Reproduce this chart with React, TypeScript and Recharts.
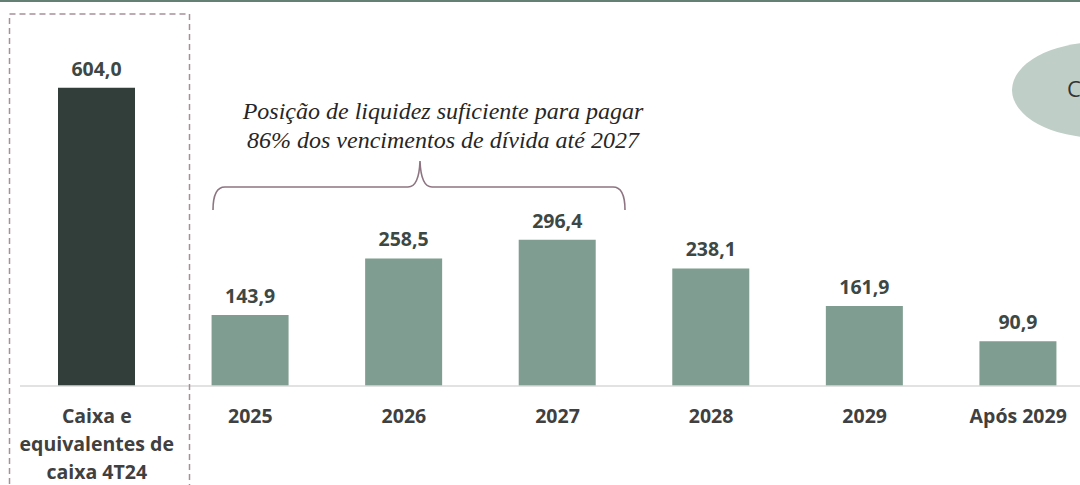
import React from "react";
import { BarChart, Bar, XAxis, YAxis, Cell, LabelList } from "recharts";

const categories = ["Caixa e|equivalentes de|caixa 4T24", "2025", "2026", "2027", "2028", "2029", "Após 2029"];
const values = [604.0, 143.9, 258.5, 296.4, 238.1, 161.9, 90.9];
const barColors = ["#323e39", "#7f9d90", "#7f9d90", "#7f9d90", "#7f9d90", "#7f9d90", "#7f9d90"];
const bracketText = ["Posição de liquidez suficiente para pagar", "86% dos vencimentos de dívida até 2027"];

const data = categories.map((c, i) => ({ name: c, value: values[i] }));

const fmt = (v: number) => v.toFixed(1).replace(".", ",");

const FONT = "'Open Sans', 'Noto Sans', sans-serif";

function ValueLabel(props: any) {
    const { x, y, width, value } = props;
    return (
        <text x={x + width / 2} y={y - 12} textAnchor="middle" fontFamily={FONT} fontWeight={700} fontSize={19.5} fill="#3d4844">
            {fmt(value)}
        </text>
    );
}

function CategoryTick(props: any) {
    const { x, y, payload } = props;
    const lines = String(payload.value).split("|");
    return (
        <text x={x} y={y} textAnchor="middle" fontFamily={FONT} fontWeight={700} fontSize={19.5} fill="#404040">
            {lines.map((l, i) => (
                <tspan key={i} x={x} dy={i === 0 ? 29 : 28}>{l}</tspan>
            ))}
        </text>
    );
}

export default function App() {
    return (
        <div style={{ position: "fixed", left: 0, top: 0, width: 1080, height: 485, overflow: "hidden", background: "#fff" }}>
            <BarChart width={1095} height={485} data={data} margin={{ top: 1, right: 0, bottom: 0, left: 20 }}>
                <YAxis hide domain={[0, 780]} />
                <XAxis
                    dataKey="name"
                    axisLine={{ stroke: "#d9d9d9", strokeWidth: 1.5 }}
                    tickLine={false}
                    interval={0}
                    tick={<CategoryTick />}
                    height={99}
                />
                <Bar dataKey="value" barSize={77} isAnimationActive={false}>
                    {data.map((_, i) => (
                        <Cell key={i} fill={barColors[i]} />
                    ))}
                    <LabelList dataKey="value" content={<ValueLabel />} />
                </Bar>
            </BarChart>
            <svg width={1080} height={485} style={{ position: "absolute", left: 0, top: 0, pointerEvents: "none" }}>
                <rect x={0} y={0} width={1080} height={2} fill="#647f73" />
                <rect x={9.5} y={14} width={180} height={500} fill="none" stroke="#a98e99" strokeWidth={1.5} strokeDasharray="6 4" />
                <ellipse cx={1100} cy={90} rx={88} ry={48} fill="#bfcec7" />
                <text x={1067} y={97} fontFamily={FONT} fontSize={22} fill="#333">C</text>
                <path
                    d="M213,210 Q213,187 225,187 L408,187 Q419,187 420,161 Q421,187 432,187 L613,187 Q625,187 625,210"
                    fill="none"
                    stroke="#8d7480"
                    strokeWidth={1.6}
                />
                <text textAnchor="middle" fontFamily="'Liberation Serif', 'DejaVu Serif', serif" fontStyle="italic" fontSize={24} fill="#262626">
                    <tspan x={443} y={119}>{bracketText[0]}</tspan>
                    <tspan x={443} y={148}>{bracketText[1]}</tspan>
                </text>
            </svg>
        </div>
    );
}
